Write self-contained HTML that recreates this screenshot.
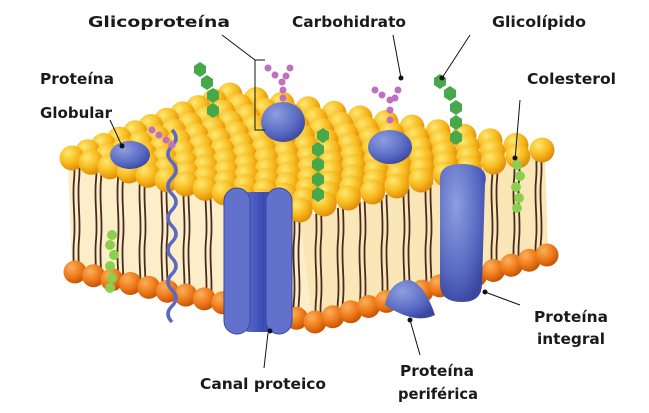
<!DOCTYPE html>
<html><head><meta charset="utf-8"><style>
html,body{margin:0;padding:0;background:#fff}
svg{display:block}
text{font-family:"DejaVu Sans","Liberation Sans",sans-serif;font-size:15px;fill:#1a1a1a;font-weight:bold}
</style></head><body>
<svg id="s" width="649" height="413" viewBox="0 0 649 413">
<defs>
<radialGradient id="yb" cx="35%" cy="30%" r="70%"><stop offset="0" stop-color="#fde870"/><stop offset="0.6" stop-color="#f7b91c"/><stop offset="1" stop-color="#e08e0a"/></radialGradient>
<radialGradient id="ob" cx="35%" cy="30%" r="70%"><stop offset="0" stop-color="#fbb05a"/><stop offset="0.6" stop-color="#ee7a1a"/><stop offset="1" stop-color="#c85608"/></radialGradient>
<radialGradient id="bl" cx="35%" cy="30%" r="75%"><stop offset="0" stop-color="#8e9ee0"/><stop offset="0.7" stop-color="#5566c0"/><stop offset="1" stop-color="#3a46a0"/></radialGradient>
<linearGradient id="ch" x1="0" x2="1"><stop offset="0" stop-color="#6a78cc"/><stop offset="0.5" stop-color="#3b4bb5"/><stop offset="1" stop-color="#5a68c5"/></linearGradient>
<pattern id="tails" width="22" height="120" patternUnits="userSpaceOnUse">
<path d="M8 0 C6 20 10 40 8 60 C6 80 10 100 8 120 M13 0 C11 20 15 40 13 60 C11 80 15 100 13 120" stroke="#4a2a20" stroke-width="1.8" fill="none"/>
</pattern>
</defs>
<polygon points="68,165 300,218 312,322 72,270" fill="#fbeec8"/>
<polygon points="300,218 545,152 548,255 312,322" fill="#f9e7b8"/>
<polygon points="68,165 300,218 312,322 72,270" fill="url(#tails)"/>
<polygon points="300,218 545,152 548,255 312,322" fill="url(#tails)"/>
<g id="balls"></g>
<path d="M172 130 q8 8 0 16 q-8 8 0 16 q8 8 0 16 q-8 8 0 16 q8 8 0 16 q-8 8 0 16 q8 8 0 16 q-8 8 0 16 q8 8 0 16 q-8 8 0 16 q8 8 0 16 q-8 8 0 16" stroke="#5a6ac4" stroke-width="3.5" fill="none"/>
<ellipse cx="130" cy="155" rx="20" ry="14" fill="url(#bl)"/>
<ellipse cx="283" cy="122" rx="22" ry="20" fill="url(#bl)"/>
<ellipse cx="390" cy="147" rx="22" ry="17" fill="url(#bl)"/>
<rect x="238" y="192" width="50" height="140" rx="12" fill="url(#ch)"/>
<rect x="224" y="188" width="26" height="146" rx="13" fill="#6272cc" stroke="#3a46a0"/>
<rect x="266" y="188" width="26" height="146" rx="13" fill="#6272cc" stroke="#3a46a0"/>
<path d="M440 178 q0 -15 25 -14 q25 2 20 20 l-3 100 q0 18 -20 18 q-22 0 -22 -18 z" fill="url(#bl)"/>
<path d="M385 305 q5 -25 25 -25 q15 5 25 35 q-20 10 -50 -10z" fill="url(#bl)"/>
<g fill="#46a84a">
<polygon points="200,62 206,66 206,73 200,77 194,73 194,66"/><polygon points="207,75 213,79 213,86 207,90 201,86 201,79"/><polygon points="213,88 219,92 219,99 213,103 207,99 207,92"/><polygon points="213,103 219,107 219,114 213,118 207,114 207,107"/>
<polygon points="440,74 446,78 446,85 440,89 434,85 434,78"/><polygon points="450,86 456,90 456,97 450,101 444,97 444,90"/><polygon points="456,100 462,104 462,111 456,115 450,111 450,104"/><polygon points="456,115 462,119 462,126 456,130 450,126 450,119"/><polygon points="456,130 462,134 462,141 456,145 450,141 450,134"/>
<polygon points="323,128 329,132 329,139 323,143 317,139 317,132"/><polygon points="318,142 324,146 324,153 318,157 312,153 312,146"/><polygon points="318,157 324,161 324,168 318,172 312,168 312,161"/><polygon points="318,172 324,176 324,183 318,187 312,183 312,176"/><polygon points="318,187 324,191 324,198 318,202 312,198 312,191"/>
</g>
<g fill="#c070c0">
<circle cx="268" cy="68" r="3.5"/><circle cx="275" cy="75" r="3.5"/><circle cx="282" cy="82" r="3.5"/><circle cx="290" cy="68" r="3.5"/><circle cx="286" cy="76" r="3.5"/><circle cx="283" cy="90" r="3.5"/><circle cx="283" cy="98" r="3.5"/>
<circle cx="375" cy="90" r="3.5"/><circle cx="382" cy="95" r="3.5"/><circle cx="390" cy="100" r="3.5"/><circle cx="398" cy="90" r="3.5"/><circle cx="395" cy="98" r="3.5"/><circle cx="390" cy="110" r="3.5"/><circle cx="390" cy="120" r="3.5"/>
<circle cx="152" cy="130" r="3.5"/><circle cx="159" cy="135" r="3.5"/><circle cx="166" cy="140" r="3.5"/><circle cx="172" cy="145" r="3.5"/>
</g>
<g fill="#8ccf50"><circle cx="112" cy="235" r="5"/><circle cx="110" cy="245" r="5"/><circle cx="114" cy="255" r="5"/><circle cx="110" cy="266" r="5"/><circle cx="112" cy="278" r="5"/><circle cx="110" cy="288" r="5"/>
<circle cx="517" cy="165" r="5"/><circle cx="520" cy="176" r="5"/><circle cx="516" cy="187" r="5"/><circle cx="519" cy="198" r="5"/><circle cx="517" cy="208" r="5"/></g>
<g stroke="#111" stroke-width="1" fill="none">
<path d="M222 35 L255 60"/><path d="M265 60 L255 60 L255 130 L265 130"/>
<path d="M393 35 L401 78"/><path d="M470 35 L442 78"/><path d="M520 100 L515 160"/>
<path d="M110 120 L122 146"/><path d="M268 333 L264 368"/><path d="M410 320 L420 355"/><path d="M485 292 L520 305"/>
</g>
<g fill="#111"><circle cx="401" cy="78" r="2.5"/><circle cx="442" cy="78" r="2.5"/><circle cx="515" cy="158" r="2.5"/><circle cx="122" cy="146" r="2.5"/><circle cx="270" cy="331" r="2.5"/><circle cx="410" cy="320" r="2.5"/><circle cx="485" cy="292" r="2.5"/></g>
<text x="88" y="27" textLength="142" lengthAdjust="spacingAndGlyphs">Glicoproteína</text>
<text x="292" y="27" textLength="114" lengthAdjust="spacingAndGlyphs">Carbohidrato</text>
<text x="492" y="27" textLength="94" lengthAdjust="spacingAndGlyphs">Glicolípido</text>
<text x="40" y="84" textLength="74" lengthAdjust="spacingAndGlyphs">Proteína</text>
<text x="40" y="118" textLength="72" lengthAdjust="spacingAndGlyphs">Globular</text>
<text x="527" y="84" textLength="89" lengthAdjust="spacingAndGlyphs">Colesterol</text>
<text x="200" y="389" textLength="126" lengthAdjust="spacingAndGlyphs">Canal proteico</text>
<text x="400" y="376" textLength="74" lengthAdjust="spacingAndGlyphs">Proteína</text>
<text x="398" y="399" textLength="80" lengthAdjust="spacingAndGlyphs">periférica</text>
<text x="534" y="322" textLength="74" lengthAdjust="spacingAndGlyphs">Proteína</text>
<text x="537" y="344" textLength="68" lengthAdjust="spacingAndGlyphs">integral</text>
</svg>
<script>
(function(){
var g=document.getElementById('balls'),out='';
function b(x,y,r,f){out+='<circle cx="'+x.toFixed(1)+'" cy="'+y.toFixed(1)+'" r="'+r+'" fill="url(#'+f+')"/>';}
for(var i=0;i<=13;i++){var t=i/13;b(75+t*240,272+t*50,11.5,'ob');}
for(var i=1;i<=13;i++){var t=i/13;b(315+t*232,322-t*67,11.5,'ob');}
var L=[72,158],Bk=[230,95],R=[542,150],F=[300,210];
var nu=10,nv=12,list=[];
for(var u=0;u<=nu;u++)for(var v=0;v<=nv;v++){
 var a=u/nu,c=v/nv;
 var x0=L[0]+(F[0]-L[0])*c, y0=L[1]+(F[1]-L[1])*c;
 var x1=Bk[0]+(R[0]-Bk[0])*c, y1=Bk[1]+(R[1]-Bk[1])*c;
 list.push([x0+(x1-x0)*a, y0+(y1-y0)*a]);
}
list.sort(function(p,q){return p[1]-q[1];});
list.forEach(function(p){b(p[0],p[1],12.5,'yb');});
g.innerHTML=out;
})();
</script>
</body></html>
